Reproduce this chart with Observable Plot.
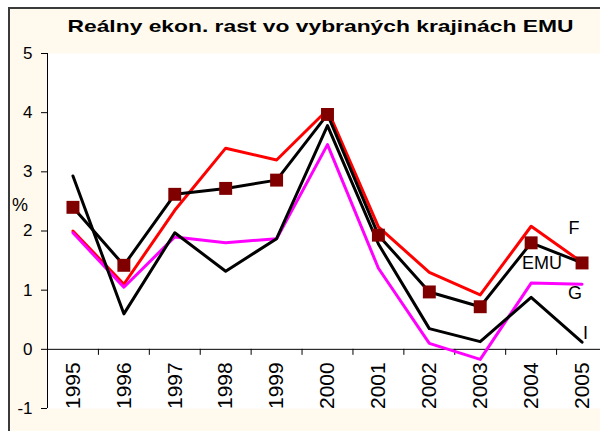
<!DOCTYPE html>
<html>
<head>
<meta charset="utf-8">
<script src="https://cdn.jsdelivr.net/npm/d3@7"></script>
<script src="https://cdn.jsdelivr.net/npm/@observablehq/plot@0.6"></script>
<style>
  html, body { margin: 0; padding: 0; background: #ffffff; overflow: hidden; width: 600px; height: 431px; }
  body { position: relative; font-family: "Liberation Sans", Arial, sans-serif; }
  #box { position: absolute; left: 8px; top: 7px; width: 640px; height: 450px; background: #FFF9EE; border: 2px solid #3a3a3a; }
  #chart { position: absolute; left: 0; top: 0; width: 640px; height: 440px; }
  #chart svg { max-width: none !important; }
  #title { position: absolute; left: 0; top: 17px; width: 640px; text-align: center; font-weight: bold; font-size: 17px; line-height: 20px; color: #000; white-space: nowrap; }
  #title span { display: inline-block; transform-origin: center; }
  #ylab { position: absolute; left: 12px; top: 195px; font-size: 18px; line-height: 20px; color: #000; }
</style>
</head>
<body>
<div id="box"></div>
<div id="chart"></div>
<div id="title"><span>Reálny ekon. rast vo vybraných krajinách EMU</span></div>
<div id="ylab">%</div>
<script>
const years = [1995, 1996, 1997, 1998, 1999, 2000, 2001, 2002, 2003, 2004, 2005];
const yTicks = [-1, 0, 1, 2, 3, 4, 5];
const seriesF   = [2.0, 1.1, 2.35, 3.4, 3.2, 4.05, 2.07, 1.3, 0.92, 2.08, 1.47];
const seriesEMU = [2.4, 1.42, 2.62, 2.72, 2.86, 3.97, 1.93, 0.97, 0.72, 1.8, 1.46];
const seriesG   = [1.97, 1.05, 1.9, 1.8, 1.87, 3.46, 1.37, 0.1, -0.17, 1.12, 1.1];
const seriesI   = [2.93, 0.6, 1.97, 1.32, 1.87, 3.78, 1.78, 0.35, 0.13, 0.88, 0.12];
const seriesNames = ["F", "EMU", "G", "I"];

const xDomain = [years[0] - 0.5, years[years.length - 1] + 0.5];
const boundaries = years.slice(1).map(y => y - 0.5);
const last = years.length - 1;

const fontFam = '"Liberation Sans", Arial, sans-serif';

const plot = Plot.plot({
  width: 640,
  height: 440,
  marginLeft: 47,
  marginRight: 33,
  marginTop: 53,
  marginBottom: 32,
  style: { background: "transparent", fontFamily: fontFam, color: "#000", overflow: "visible", maxWidth: "none" },
  x: { type: "linear", domain: xDomain, axis: null },
  y: { domain: [yTicks[0], yTicks[yTicks.length - 1]], axis: null },
  marks: [
    Plot.frame({ fill: "white", stroke: null }),
    Plot.axisY({ ticks: yTicks, tickSize: 6, tickPadding: 9, fontSize: 17, tickFormat: d => String(d), label: null, stroke: "#000", fill: "#000" }),
    Plot.ruleX([xDomain[0]], { stroke: "#000", strokeWidth: 1 }),
    Plot.ruleY([0], { stroke: "#000", strokeWidth: 1 }),
    Plot.ruleX(boundaries, { x: d => d, y1: 0, y2: 0, insetBottom: -6, stroke: "#000", strokeWidth: 1 }),
    Plot.text(years, { x: d => d, y: 0, text: d => String(d), rotate: -90, textAnchor: "end", lineAnchor: "middle", dy: 13, fontSize: 21, fill: "#000", clip: "frame" }),
    Plot.line(years, { x: d => d, y: seriesF, stroke: "#FF0000", strokeWidth: 3 }),
    Plot.line(years, { x: d => d, y: seriesG, stroke: "#FF00FF", strokeWidth: 3 }),
    Plot.line(years, { x: d => d, y: seriesI, stroke: "#000000", strokeWidth: 3 }),
    Plot.line(years, { x: d => d, y: seriesEMU, stroke: "#000000", strokeWidth: 3 }),
    Plot.dot(years, { x: d => d, y: seriesEMU, symbol: "square", fill: "#800000", stroke: null, r: 7.3 }),
    Plot.text([seriesNames[0]], { x: () => years[last], y: () => seriesF[last], text: d => d, dx: -8, dy: -34.5, fontSize: 18, fill: "#000" }),
    Plot.text([seriesNames[1]], { x: () => years[last], y: () => seriesEMU[last], text: d => d, dx: -40, dy: 0, fontSize: 18, fill: "#000" }),
    Plot.text([seriesNames[2]], { x: () => years[last], y: () => seriesG[last], text: d => d, dx: -7, dy: 9, fontSize: 18, fill: "#000" }),
    Plot.text([seriesNames[3]], { x: () => years[last], y: () => seriesI[last], text: d => d, dx: 3.5, dy: -9, fontSize: 18, fill: "#000" })
  ]
});
document.getElementById("chart").appendChild(plot);

// stretch title horizontally to match reference width
const span = document.querySelector("#title span");
const w = span.getBoundingClientRect().width;
span.style.transform = `scaleX(${506 / w})`;
</script>
</body>
</html>
